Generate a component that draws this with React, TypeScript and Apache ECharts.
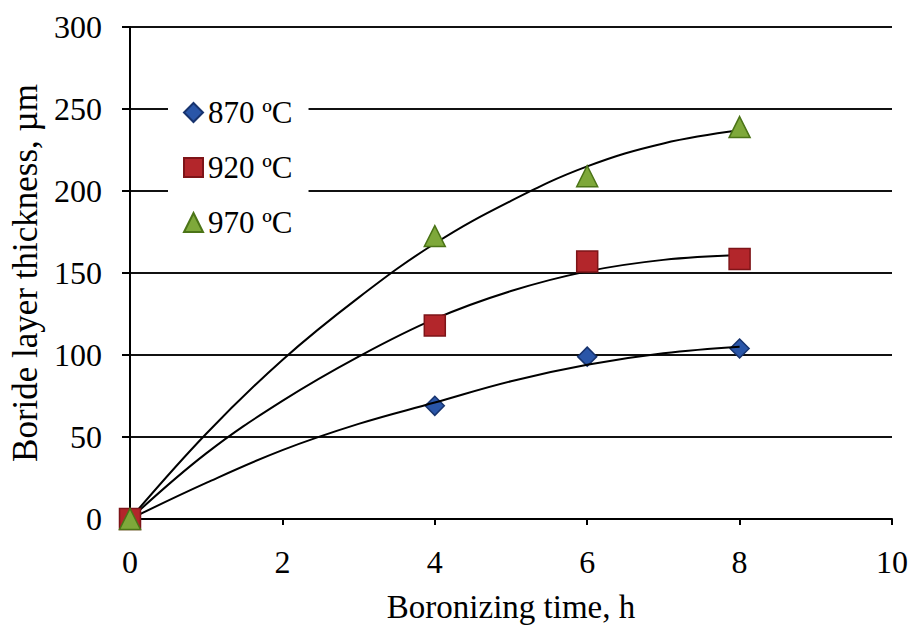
import React, { useEffect, useRef } from "react";
import * as echarts from "echarts";

const seriesNames = ["870 ºC", "920 ºC", "970 ºC"];
const timeH = [0, 4, 6, 8];
const thick870 = [0, 69, 99, 104];
const thick920 = [0, 118, 157, 158.5];
const thick970 = [0, 172.5, 209, 239];

// trend curves
const curveT = [0, 1, 2, 3, 4, 5, 6, 7, 8];
const curve870 = [0, 22, 42, 58, 71, 84, 94, 101, 105];
const curve920 = [0, 40, 72, 99, 122, 139, 151, 158, 161];
const curve970 = [0, 52, 97, 135, 168, 194, 215, 229, 237];

const xTicks = { min: 0, max: 10, interval: 2 };
const yTicks = { min: 0, max: 300, interval: 50 };

const FONT = "'Liberation Serif', 'Times New Roman', serif";

export default function App() {
  const ref = useRef<HTMLDivElement>(null);
  useEffect(() => {
    if (!ref.current) return;
    const chart = echarts.init(ref.current, null, { renderer: "svg" });
    const pair = (xs: number[], ys: number[]) => xs.map((x, i) => [x, ys[i]]);
    const markerStyles = [
      { symbol: "diamond", size: 19, color: "#2a56a8", border: "#17336e" },
      { symbol: "rect", size: 21, color: "#b3262b", border: "#7e1418" },
      { symbol: "triangle", size: 21, color: "#7ea83a", border: "#4b7417" },
    ];
    const pts = [thick870, thick920, thick970];
    const curves = [curve870, curve920, curve970];
    const option: any = {
      animation: false,
      backgroundColor: "#fff",
      textStyle: { fontFamily: FONT, color: "#000" },
      grid: { left: 130, right: 20, top: 27, bottom: 115, containLabel: false },
      xAxis: {
        type: "value",
        min: xTicks.min,
        max: xTicks.max,
        interval: xTicks.interval,
        name: "Boronizing time, h",
        nameLocation: "middle",
        nameGap: 71,
        nameTextStyle: { fontSize: 33, fontFamily: FONT, color: "#000" },
        axisLine: { show: true, lineStyle: { color: "#000", width: 2 } },
        axisTick: { show: true, length: 6, lineStyle: { color: "#000", width: 2 } },
        axisLabel: { fontSize: 32, fontFamily: FONT, color: "#000", margin: 27 },
        splitLine: { show: false },
      },
      yAxis: {
        type: "value",
        min: yTicks.min,
        max: yTicks.max,
        interval: yTicks.interval,
        name: "Boride layer thickness, µm",
        nameLocation: "middle",
        nameGap: 84,
        nameTextStyle: { fontSize: 35, fontFamily: FONT, color: "#000" },
        axisLine: { show: true, lineStyle: { color: "#000", width: 2 } },
        axisTick: { show: true, length: 8, lineStyle: { color: "#000", width: 2 } },
        axisLabel: { fontSize: 32, fontFamily: FONT, color: "#000", margin: 28 },
        splitLine: { show: true, lineStyle: { color: "#111", width: 2 } },
      },
      legend: {
        orient: "vertical",
        left: 168,
        top: 83,
        padding: [14, 16, 14, 15],
        itemGap: 24,
        itemWidth: 19,
        itemHeight: 19,
        backgroundColor: "#fff",
        textStyle: { fontSize: 31, fontFamily: FONT, color: "#000" },
        data: seriesNames.map((n, i) => ({ name: n, icon: markerStyles[i].symbol })),
      },
      series: [
        ...curves.map((c) => ({
          type: "line",
          data: pair(curveT, c),
          smooth: 0.4,
          showSymbol: false,
          symbol: "none",
          lineStyle: { color: "#000", width: 2 },
          silent: true,
          z: 3,
        })),
        ...pts.map((p, i) => ({
          name: seriesNames[i],
          type: "scatter",
          data: pair(timeH, p),
          symbol: markerStyles[i].symbol,
          symbolSize: markerStyles[i].size,
          itemStyle: {
            color: markerStyles[i].color,
            borderColor: markerStyles[i].border,
            borderWidth: 1.5,
            opacity: 1,
          },
          z: 2 + i,
        })),
      ],
    };
    chart.setOption(option);
    return () => chart.dispose();
  }, []);
  return (
    <div
      ref={ref}
      style={{ position: "fixed", left: 0, top: 0, width: 912, height: 634, background: "#fff" }}
    />
  );
}
